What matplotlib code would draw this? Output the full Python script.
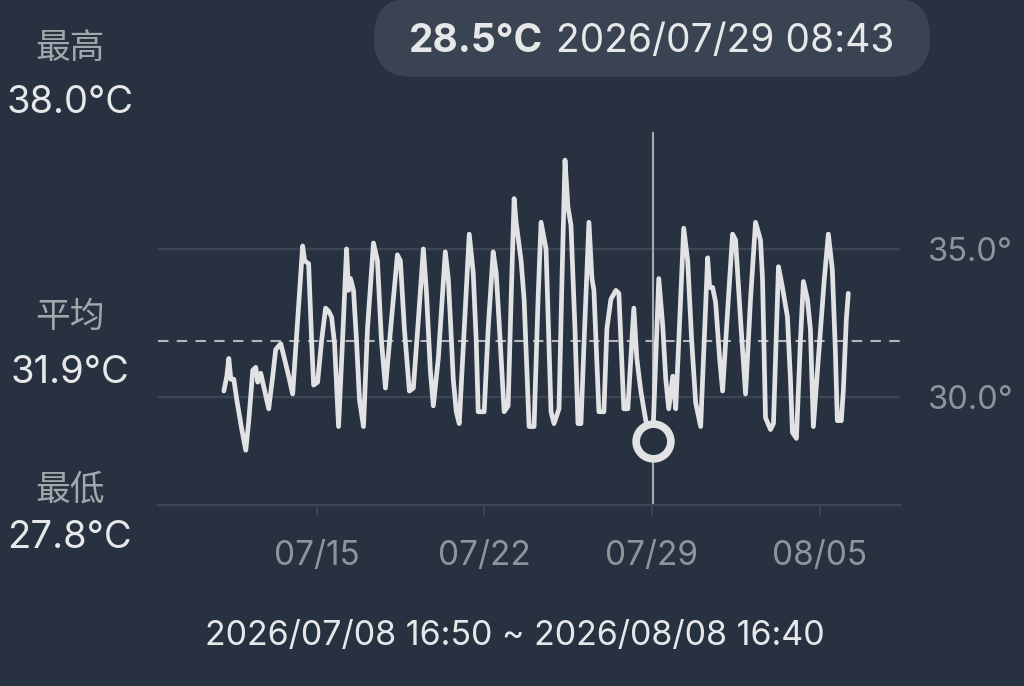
import matplotlib
matplotlib.use("Agg")
import matplotlib.pyplot as plt
import matplotlib.patches as mpatches
import pandas as pd

plt.rcParams['font.family'] = ['Inter', 'Noto Sans CJK SC', 'DejaVu Sans']

# ---- data ----
range_start = "2026-07-08 16:50"
range_end = "2026-08-08 16:40"
hours = [66, 69, 71, 73, 76, 79, 84, 88, 91, 95, 98, 100, 103, 107, 111, 115, 118, 123, 126, 131,
         135, 140, 145, 147, 151, 154, 156, 160, 164, 168, 171, 174, 177, 181, 185, 189, 191, 193, 196, 199,
         202, 206, 210, 216, 220, 224, 228, 234, 240, 243, 247, 252, 256, 261, 266, 269, 273, 276, 281, 288,
         291, 293, 296, 299, 302, 307, 312, 316, 319, 321, 327, 331, 336, 339, 342, 347, 351, 354, 357, 359,
         364, 367, 372, 377, 381, 384, 389, 394, 397, 402, 405, 408, 411, 414, 418, 421, 424, 428, 432, 435,
         437, 442, 447, 450, 454, 459, 462, 467, 471, 475, 477, 480, 484, 489, 495.9, 499, 502, 506, 509, 512,
         516, 519, 523, 527, 531, 535, 539, 544, 548, 551, 553, 556, 559, 563, 566, 571, 576, 579, 584, 589,
         594, 599, 604, 606, 609, 614, 617, 620, 622, 626, 631, 634, 636, 640, 644, 647, 651, 654, 657, 662,
         668, 672, 676, 679, 681, 685, 687, 690, 692]
temps = [30.2, 30.7, 31.3, 30.6, 30.6, 29.9, 28.9, 28.2, 29.2, 30.9, 31.0, 30.5, 30.8, 30.2, 29.6, 30.7, 31.6, 31.8, 31.4, 30.7,
         30.1, 32.6, 35.1, 34.6, 34.5, 31.9, 30.4, 30.5, 31.9, 33.0, 32.9, 32.7, 31.8, 29.0, 31.9, 35.0, 33.6, 34.0, 33.6, 31.9,
         29.9, 29.0, 32.3, 35.2, 34.6, 31.9, 30.3, 32.6, 34.8, 34.6, 32.3, 30.2, 30.3, 32.6, 35.0, 33.6, 30.9, 29.7, 31.3, 34.9,
         34.0, 32.7, 30.6, 29.5, 29.1, 32.3, 35.5, 34.2, 31.9, 29.5, 29.5, 32.3, 34.9, 34.2, 32.5, 29.5, 29.7, 33.3, 36.7, 35.9,
         34.6, 33.3, 29.0, 29.0, 33.3, 35.9, 35.0, 29.5, 29.1, 29.6, 34.0, 38.0, 36.4, 35.8, 32.3, 29.1, 29.1, 32.6, 35.9, 34.0,
         33.6, 29.5, 29.5, 32.3, 33.3, 33.6, 33.5, 29.6, 29.6, 31.9, 33.0, 31.3, 30.2, 29.2, 28.5, 31.3, 34.0, 32.4, 30.6, 29.6,
         30.7, 29.6, 32.6, 35.7, 34.6, 31.9, 29.8, 29.0, 32.3, 34.7, 33.7, 33.7, 33.2, 31.3, 30.2, 32.9, 35.5, 35.3, 32.6, 30.1,
         33.3, 35.9, 35.3, 34.0, 29.3, 28.9, 29.1, 32.3, 34.4, 33.7, 32.7, 30.6, 28.8, 28.6, 31.9, 33.9, 33.3, 32.3, 29.0, 31.3,
         34.0, 35.5, 34.3, 31.6, 29.2, 29.2, 30.2, 32.6, 33.5]
max_temp, avg_temp, min_temp = 38.0, 31.9, 27.8
sel_time, sel_temp = "2026-07-29 08:43", 28.5
tick_times = ["2026-07-15 08:00", "2026-07-22 08:00", "2026-07-29 08:00", "2026-08-05 08:00"]
tick_labels = ["07/15", "07/22", "07/29", "08/05"]
y_ticks = [30.0, 35.0]
y_tick_labels = ["30.0°", "35.0°"]

# ---- style ----
BG = "#283140"
PILL = "#3a4351"
LINE = "#e1e2e4"
GRID = "#3d4655"
GRAYTXT = "#8f949b"
LABEL = "#a3a6ab"
VALUE = "#e6e7e9"

W, H = 1024, 686
fig = plt.figure(figsize=(W / 100, H / 100), dpi=100, facecolor=BG)

ax = fig.add_axes([158 / W, 1 - 505 / H, 742 / W, 373 / H])
ax.set_facecolor(BG)

t0 = pd.Timestamp(range_start)
times = t0 + pd.to_timedelta(hours, unit="h")

ax.set_xlim(pd.Timestamp(range_start), pd.Timestamp(range_end))
ax.set_ylim(26.35, 38.95)

for yv in y_ticks:
    ax.axhline(yv, color=GRID, lw=1.6, zorder=1)
ax.axhline(avg_temp, color="#b3b6bb", lw=1.5, ls=(0, (5, 4)), zorder=2)

st = pd.Timestamp(sel_time)
ax.axvline(st, color="#a7aaaf", lw=1.5, zorder=2)

ax.plot(times, temps, color=LINE, lw=3.4, solid_joinstyle="round", solid_capstyle="round", zorder=3)
ax.plot([st], [sel_temp], marker="o", ms=25, mew=5.5, mec=LINE, mfc=BG, zorder=4)

for s in ["top", "left", "right"]:
    ax.spines[s].set_visible(False)
ax.spines["bottom"].set_color(GRID)
ax.spines["bottom"].set_linewidth(1.6)

ax.set_xticks([pd.Timestamp(t) for t in tick_times])
ax.set_xticklabels(tick_labels)
ax.tick_params(axis="x", colors=GRID, length=7, width=1.5, pad=18, labelsize=24, labelcolor=GRAYTXT)
ax.yaxis.tick_right()
ax.set_yticks(y_ticks)
ax.set_yticklabels(y_tick_labels)
ax.tick_params(axis="y", length=0, pad=20, labelsize=23.5, labelcolor=GRAYTXT)

# ---- header pill ----
pill = mpatches.FancyBboxPatch((374, H - 77), 556, 79,
                               boxstyle="round,pad=0,rounding_size=38",
                               transform=None, facecolor=PILL, edgecolor="none", zorder=0)
fig.patches.append(pill)
fig.text(543 / W, 1 - 41 / H, f"{sel_temp:.1f}°C", ha="right", va="center",
         fontsize=28, fontweight="bold", color=VALUE)
fig.text(556 / W, 1 - 41 / H, pd.Timestamp(sel_time).strftime("%Y/%m/%d %H:%M"), ha="left", va="center",
         fontsize=28, color=VALUE)

# ---- left summary ----
lx = 70 / W
fig.text(lx, 1 - 49 / H, "最高", ha="center", va="center", fontsize=25, color=LABEL)
fig.text(lx, 1 - 103 / H, f"{max_temp:.1f}°C", ha="center", va="center", fontsize=27.5, color=VALUE)
fig.text(lx, 1 - 318 / H, "平均", ha="center", va="center", fontsize=25, color=LABEL)
fig.text(lx, 1 - 373 / H, f"{avg_temp:.1f}°C", ha="center", va="center", fontsize=27.5, color=VALUE)
fig.text(lx, 1 - 490 / H, "最低", ha="center", va="center", fontsize=25, color=LABEL)
fig.text(lx, 1 - 538 / H, f"{min_temp:.1f}°C", ha="center", va="center", fontsize=27.5, color=VALUE)

# ---- range footer ----
fig.text(515 / W, 1 - 636 / H,
         f"{pd.Timestamp(range_start):%Y/%m/%d %H:%M} ~ {pd.Timestamp(range_end):%Y/%m/%d %H:%M}",
         ha="center", va="center", fontsize=24.5, color=VALUE)

fig.savefig("out.png", dpi=100, facecolor=BG)
